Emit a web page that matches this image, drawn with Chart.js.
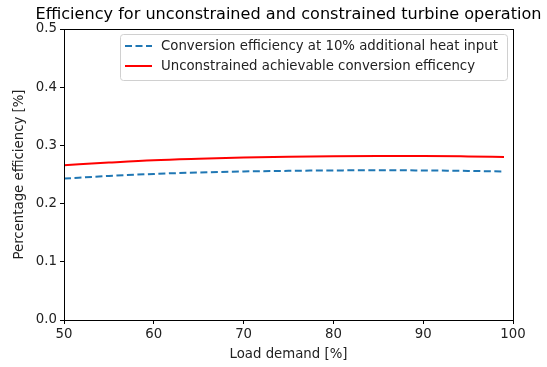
<!DOCTYPE html>
<html>
<head>
<meta charset="utf-8">
<script src="https://cdn.jsdelivr.net/npm/chart.js@4.4.0/dist/chart.umd.min.js"></script>
<style>
  body { margin: 0; background: #fff; }
  #wrap { width: 547px; height: 367px; }
</style>
</head>
<body>
<div id="wrap"><canvas id="mychart"></canvas></div>
<script>
var loadDemand = [50, 55, 60, 65, 70, 75, 80, 85, 90, 95, 99];
// conversion efficiency at 10% additional heat input (blue dashed)
var effExtraHeat = [0.243, 0.2475, 0.251, 0.2535, 0.2552, 0.2563, 0.257, 0.2572, 0.257, 0.2562, 0.2552];
// unconstrained achievable conversion efficiency (red)
var effUnconstrained = [0.266, 0.2705, 0.2745, 0.277, 0.279, 0.2805, 0.2815, 0.282, 0.2818, 0.281, 0.2802];
var xTicks = [50, 60, 70, 80, 90, 100];
var yTicks = [0.0, 0.1, 0.2, 0.3, 0.4, 0.5];
var chartTitle = 'Efficiency for unconstrained and constrained turbine operation';

var fontFam = "'DejaVu Sans', sans-serif";
var fs = 13.3;

function toPoints(xs, ys) {
  return xs.map(function (x, i) { return { x: x, y: ys[i] }; });
}

// frame around the plot, title and legend box in the upper right
var framePlugin = {
  id: 'frame',
  afterDatasetsDraw: function (chart) {
    var ctx = chart.ctx, a = chart.chartArea;
    ctx.save();
    ctx.strokeStyle = '#000';
    ctx.lineWidth = 1;
    ctx.strokeRect(Math.round(a.left) + 0.5, Math.round(a.top) + 0.5,
      Math.round(a.right - a.left), Math.round(a.bottom - a.top));

    // title (drawn by hand so it is not squeezed to the plot width)
    ctx.font = '16.1px ' + fontFam;
    ctx.fillStyle = '#000';
    ctx.textAlign = 'center';
    ctx.textBaseline = 'middle';
    ctx.fillText(chartTitle, (a.left + a.right) / 2, 15);

    // legend
    var bx = 120, by = 34, bw = 387, bh = 46;
    ctx.textAlign = 'left';
    ctx.fillStyle = 'rgba(255,255,255,0.8)';
    ctx.strokeStyle = '#d0d0d0';
    ctx.beginPath();
    ctx.roundRect(bx + 0.5, by + 0.5, bw, bh, 3);
    ctx.fill();
    ctx.stroke();
    ctx.font = fs + 'px ' + fontFam;
    chart.data.datasets.forEach(function (ds, i) {
      var yy = by + 12 + i * 20;
      ctx.strokeStyle = ds.borderColor;
      ctx.lineWidth = ds.borderWidth;
      ctx.setLineDash(ds.borderDash || []);
      ctx.beginPath();
      ctx.moveTo(125, yy);
      ctx.lineTo(152, yy);
      ctx.stroke();
      ctx.setLineDash([]);
      ctx.fillStyle = '#222';
      ctx.fillText(ds.label, 161, yy + 1);
    });
    ctx.restore();
  }
};

var ctx = document.getElementById('mychart');
var myChart = new Chart(ctx, {
  type: 'line',
  data: {
    datasets: [{
      label: 'Conversion efficiency at 10% additional heat input',
      data: toPoints(loadDemand, effExtraHeat),
      borderColor: '#1f77b4',
      borderWidth: 2,
      borderDash: [7, 3.5],
      pointRadius: 0,
      cubicInterpolationMode: 'monotone',
      fill: false
    }, {
      label: 'Unconstrained achievable conversion efficency',
      data: toPoints(loadDemand, effUnconstrained),
      borderColor: '#ff0000',
      borderWidth: 2,
      pointRadius: 0,
      cubicInterpolationMode: 'monotone',
      fill: false
    }]
  },
  options: {
    responsive: true,
    maintainAspectRatio: false,
    animation: false,
    layout: { padding: { left: 0, right: 34, top: 29, bottom: 0 } },
    plugins: {
      legend: { display: false },
      tooltip: { enabled: false },
      title: { display: false }
    },
    scales: {
      x: {
        type: 'linear',
        min: 50,
        max: 100,
        afterBuildTicks: function (scale) {
          scale.ticks = xTicks.map(function (v) { return { value: v }; });
        },
        ticks: {
          color: '#222',
          font: { family: fontFam, size: fs },
          padding: 3,
          maxRotation: 0
        },
        grid: { drawOnChartArea: false, drawTicks: true, tickLength: 4, color: '#000' },
        border: { display: true, color: '#000' },
        title: {
          display: true,
          text: 'Load demand [%]',
          color: '#222',
          font: { family: fontFam, size: fs },
          padding: { top: 2, bottom: 4 }
        },
        afterFit: function (scale) { scale.height = 47; }
      },
      y: {
        min: 0,
        max: 0.5,
        afterBuildTicks: function (scale) {
          scale.ticks = yTicks.map(function (v) { return { value: v }; });
        },
        ticks: {
          color: '#222',
          font: { family: fontFam, size: fs },
          padding: 3,
          callback: function (v) { return Number(v).toFixed(1); }
        },
        grid: { drawOnChartArea: false, drawTicks: true, tickLength: 4, color: '#000' },
        border: { display: true, color: '#000' },
        title: {
          display: true,
          text: 'Percentage efficiency [%]',
          color: '#222',
          font: { family: fontFam, size: fs },
          padding: { top: 12, bottom: 2 }
        },
        afterFit: function (scale) { scale.width = 64; }
      }
    }
  },
  plugins: [framePlugin]
});
</script>
</body>
</html>
